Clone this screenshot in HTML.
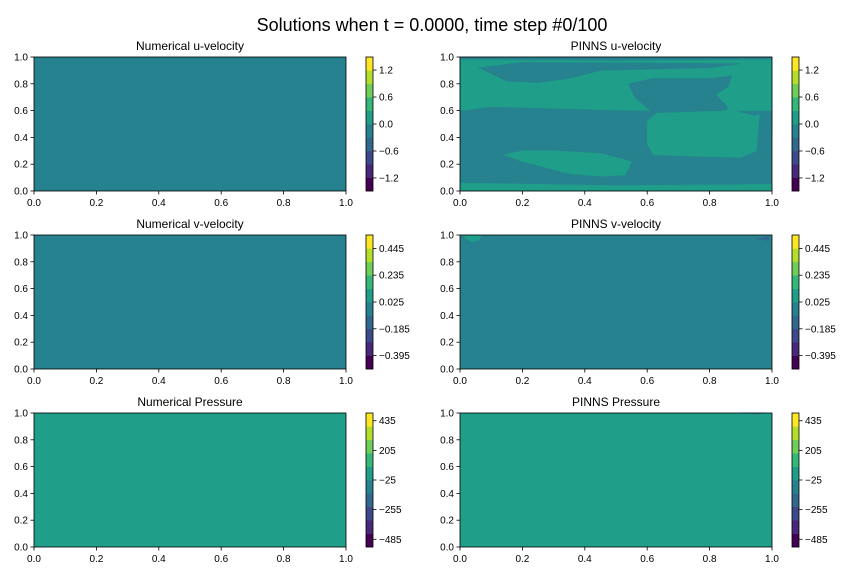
<!DOCTYPE html>
<html><head><meta charset="utf-8"><style>
body{margin:0;background:#fff}
svg{display:block;font-family:"Liberation Sans","DejaVu Sans",sans-serif}
</style></head><body>
<svg id="fig" width="864" height="576" xmlns="http://www.w3.org/2000/svg">
<rect width="864" height="576" fill="#fff"/>
<text x="432" y="31" font-size="18" text-anchor="middle">Solutions when t = 0.0000, time step #0/100</text>
</svg>
<script>
const viridis=["#440154","#482878","#3e4989","#31688e","#26828e","#1f9e89","#35b779","#6ece58","#b5de2b","#fde725"];
const axTicks=["0.0","0.2","0.4","0.6","0.8","1.0"];
const axTickVals=[0,0.2,0.4,0.6,0.8,1.0];
const panelTitles=["Numerical u-velocity","PINNS u-velocity","Numerical v-velocity","PINNS v-velocity","Numerical Pressure","PINNS Pressure"];
const cbarRanges=[[-1.49,1.49],[-0.5,0.55],[-545,495]];
const cbarTickVals=[[1.2,0.6,0.0,-0.6,-1.2],[0.445,0.235,0.025,-0.185,-0.395],[435,205,-25,-255,-485]];
const cbarTickLabels=[["1.2","0.6","0.0","\u22120.6","\u22121.2"],["0.445","0.235","0.025","\u22120.185","\u22120.395"],["435","205","\u221225","\u2212255","\u2212485"]];
const baseLevel=[4,4,4,4,5,5];
// contour regions (data coords) [panel, level, points], drawn in order
const regions=[
 [1,5,[[0,0],[1,0],[1,0.05],[0.5,0.04],[0,0.06]]],
 [1,5,[[0,0.6],[0.1,0.63],[0.4,0.61],[0.58,0.6],[1,0.6],[1,0.98],[0,0.98]]],
 [1,4,[[0.54,0.8],[0.62,0.84],[0.8,0.84],[0.87,0.86],[0.86,0.78],[0.82,0.72],[0.86,0.62],[0.84,0.57],[0.62,0.58],[0.56,0.7]]],
 [1,4,[[0.06,0.92],[0.15,0.82],[0.25,0.81],[0.35,0.84],[0.45,0.9],[0.8,0.92],[0.9,0.95],[0.2,0.96]]],
 [1,5,[[0.6,0.52],[0.63,0.58],[0.75,0.59],[0.88,0.6],[0.94,0.56],[0.96,0.57],[0.95,0.3],[0.9,0.25],[0.75,0.26],[0.62,0.27],[0.6,0.35]]],
 [1,4,[[0.96,0.57],[1,0.42],[1,0.6]]],
 [1,5,[[0.14,0.27],[0.2,0.3],[0.3,0.3],[0.45,0.28],[0.55,0.22],[0.53,0.12],[0.45,0.11],[0.35,0.13],[0.2,0.22]]],
 [1,4,[[0,1],[1,1],[1,0.985],[0.5,0.975],[0,0.985]]],
 [3,5,[[0.01,1],[0.07,1],[0.06,0.96],[0.04,0.95],[0.02,0.97]]],
 [3,3,[[0.95,0.97],[0.99,0.99],[0.99,0.96]]],
 [5,4,[[0.9,1],[0.98,1],[0.95,0.99]]]
];
const NS="http://www.w3.org/2000/svg";
const svg=document.getElementById('fig');
function mk(t,a,p){const e=document.createElementNS(NS,t);for(const k in a)e.setAttribute(k,a[k]);(p||svg).appendChild(e);return e;}
const colX=[34,460],rowY=[57,235,413],W=312,H=134;
for(let i=0;i<6;i++){
  const c=i%2,r=Math.floor(i/2),x0=colX[c],y0=rowY[r];
  const sx=v=>x0+v*W, sy=v=>y0+H-v*H;
  const g=mk('g',{});
  
  
  const bg=mk('rect',{x:x0,y:y0,width:W,height:H,fill:viridis[baseLevel[i]]},g);
  
  
  regions.filter(rg=>rg[0]===i).forEach(rg=>{
    const p=mk('polygon',{points:rg[2].map(q=>sx(q[0])+','+sy(q[1])).join(' '),fill:viridis[rg[1]],'stroke':viridis[rg[1]],'stroke-width':0.5,'stroke-linejoin':'round'},g);
    
    
  });
  const fr=mk('rect',{x:x0,y:y0,width:W,height:H,fill:'none',stroke:'#000','stroke-width':0.8},g);
  
  
  const t=mk('text',{x:x0+W/2,y:y0-7,'font-size':12,'text-anchor':'middle'},g);t.textContent=panelTitles[i];
  
  
  axTickVals.forEach((v,k)=>{
    mk('line',{x1:sx(v),x2:sx(v),y1:y0+H,y2:y0+H+3.5,stroke:'#000','stroke-width':0.8},g);
    const tx=mk('text',{x:sx(v),y:y0+H+15,'font-size':10,'text-anchor':'middle'},g);tx.textContent=axTicks[k];
    
    
    mk('line',{x1:x0-3.5,x2:x0,y1:sy(v),y2:sy(v),stroke:'#000','stroke-width':0.8},g);
    const ty=mk('text',{x:x0-6,y:sy(v)+3.5,'font-size':10,'text-anchor':'end'},g);ty.textContent=axTicks[k];
    
    
  });
  const cx=x0+332,cw=7,rg=cbarRanges[r];
  const cy=v=>y0+H-(v-rg[0])/(rg[1]-rg[0])*H;
  const cb=mk('g',{},g);
  
  
  for(let k=0;k<10;k++){
    mk('rect',{x:cx,y:y0+H-(k+1)*H/10,width:cw,height:H/10+0.3,fill:viridis[k]},cb);
  }
  mk('rect',{x:cx,y:y0,width:cw,height:H,fill:'none',stroke:'#000','stroke-width':0.8},cb);
  cbarTickVals[r].forEach((v,k)=>{
    mk('line',{x1:cx+cw,x2:cx+cw+3.5,y1:cy(v),y2:cy(v),stroke:'#000','stroke-width':0.8},cb);
    const lt=mk('text',{x:cx+cw+6,y:cy(v)+3.5,'font-size':10},cb);lt.textContent=cbarTickLabels[r][k];
    
    
  });
}
</script>
</body></html>
